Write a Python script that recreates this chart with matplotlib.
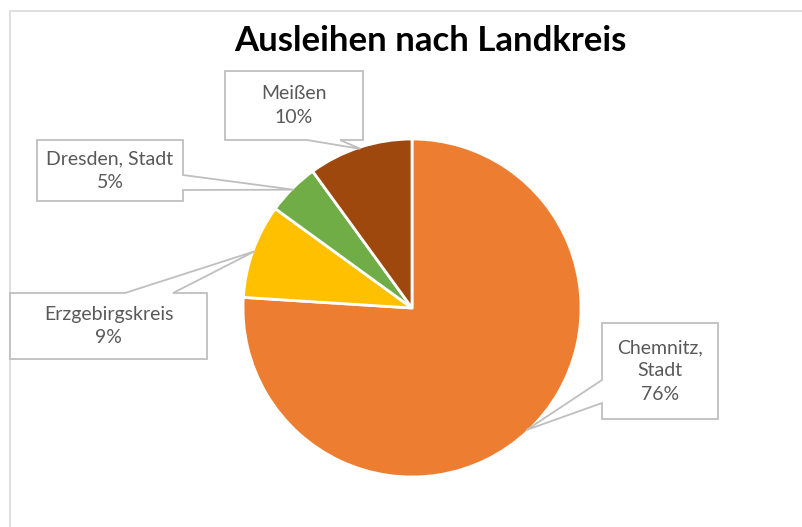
import numpy as np
import matplotlib.pyplot as plt
from matplotlib.patches import Polygon, Rectangle

# data
kreise = ['Chemnitz, Stadt', 'Erzgebirgskreis', 'Dresden, Stadt', 'Meißen']
anteile = [76, 9, 5, 10]
farben = ['#ED7D31', '#FFC000', '#70AD47', '#9E480E']

W, H = 802, 527
fig = plt.figure(figsize=(W / 100, H / 100), dpi=100)
ax = fig.add_axes([0, 0, 1, 1])
ax.set_xlim(0, W)
ax.set_ylim(0, H)
ax.set_aspect('equal')
ax.axis('off')

def py(y):
    # pixel y (top down) -> data y
    return H - y

# chart frame (cropped on right/bottom)
ax.add_patch(Rectangle((9.5, py(600)), 900, 600 - 10.5, fill=False,
                       edgecolor='#D9D9D9', lw=1.2, zorder=0))

ax.text(430, py(41), 'Ausleihen nach Landkreis', ha='center', va='center',
        fontsize=25, fontweight='bold', family='Lato', color='black')

cx, cy, r = 412, 308, 169
wedges, _ = ax.pie(anteile, colors=farben, startangle=90, counterclock=False,
                   center=(cx, py(cy)), radius=r, frame=True,
                   wedgeprops=dict(edgecolor='white', linewidth=2))
ax.set_xlim(0, W)
ax.set_ylim(0, H)
ax.axis('off')

# callout boxes: (x0, y0, x1, y1) in pixels, side of tail, tail base
boxes = [
    ((602, 323, 718, 419), 'left', (380, 403)),
    ((10, 293, 207, 359), 'top', (125, 173)),
    ((37, 140, 183, 201), 'right', (175, 190)),
    ((225, 71, 363, 140), 'bottom', (307, 340)),
]

for w, name, pct, (box, side, (a, b)) in zip(wedges, kreise, anteile, boxes):
    mid = np.deg2rad((w.theta1 + w.theta2) / 2)
    tip = (cx + 0.99 * r * np.cos(mid), cy - 0.99 * r * np.sin(mid))
    x0, y0, x1, y1 = box
    pts = [(x0, y0)]
    if side == 'top':
        pts += [(a, y0), tip, (b, y0)]
    pts += [(x1, y0)]
    if side == 'right':
        pts += [(x1, a), tip, (x1, b)]
    pts += [(x1, y1)]
    if side == 'bottom':
        pts += [(b, y1), tip, (a, y1)]
    pts += [(x0, y1)]
    if side == 'left':
        pts += [(x0, b), tip, (x0, a)]
    pts = [(x, py(y)) for x, y in pts]
    ax.add_patch(Polygon(pts, closed=True, facecolor='white',
                         edgecolor='#BFBFBF', lw=1.3, zorder=5))
    label = name.replace(', ', ',\n') if name.startswith('Chemnitz') else name
    ax.text((x0 + x1) / 2, py((y0 + y1) / 2), f'{label}\n{pct}%',
            ha='center', va='center', fontsize=14, family='Lato',
            color='#595959', linespacing=1.45, zorder=6)

fig.savefig('out.png', dpi=100)
